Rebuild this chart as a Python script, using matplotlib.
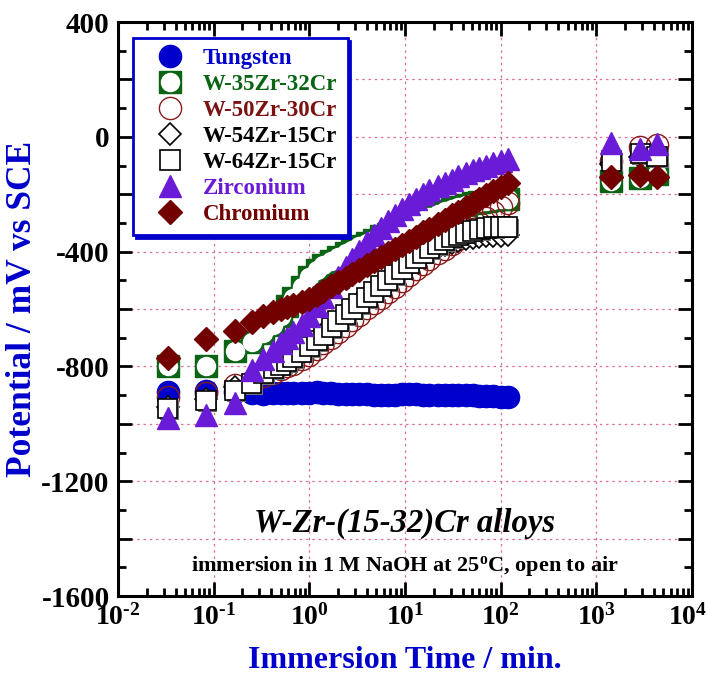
import matplotlib
matplotlib.use('Agg')
import matplotlib.pyplot as plt
import matplotlib.patheffects as pe
import matplotlib.transforms as mtransforms
from matplotlib.lines import Line2D
from matplotlib.ticker import LogLocator, MultipleLocator, NullFormatter

plt.rcParams['font.family'] = ['Liberation Serif', 'DejaVu Serif']
plt.rcParams['font.weight'] = 'bold'
plt.rcParams['mathtext.fontset'] = 'custom'
plt.rcParams['mathtext.rm'] = 'Liberation Serif:bold'
plt.rcParams['mathtext.it'] = 'Liberation Serif:italic:bold'
plt.rcParams['mathtext.bf'] = 'Liberation Serif:bold'
plt.rcParams['axes.unicode_minus'] = False

# immersion time, minutes
time_min = [0.033, 0.083, 0.167, 0.25, 0.33, 0.42, 0.5, 0.58, 0.67, 0.83,
            1.0, 1.2, 1.4, 1.7, 2.0, 2.4, 2.8, 3.3, 4.0, 4.7,
            5.6, 6.6, 7.8, 9.3, 11, 13, 15.5, 18, 22, 26,
            31, 36, 43, 51, 60, 71, 84, 100, 118]
time_long = [1440, 2880, 4320]

# potential, mV vs SCE
tungsten = [-889, -884, -890, -893, -895, -893, -892, -894, -893, -892,
            -891, -890, -892, -894, -895, -896, -896, -897, -897, -898,
            -898, -899, -898, -897, -896, -897, -898, -899, -900, -900,
            -899, -898, -899, -900, -902, -903, -904, -905, -905]

w35zr32cr = [-797, -800, -747, -716, -685, -655, -625, -590, -560, -525,
             -490, -465, -447, -432, -418, -405, -393, -381, -369, -358,
             -347, -337, -328, -318, -308, -298, -289, -280, -270, -260,
             -251, -244, -237, -231, -226, -222, -219, -217, -215]
w35zr32cr_long = [-154, -143, -130]

w50zr30cr = [-905, -891, -863, -850, -835, -822, -810, -800, -790, -775,
             -760, -740, -720, -700, -680, -660, -640, -620, -598, -580,
             -560, -542, -522, -502, -482, -462, -442, -425, -405, -390,
             -372, -357, -340, -322, -302, -283, -262, -245, -230]
w50zr30cr_long = [-85, -35, -30]

w54zr15cr = [-943, -912, -873, -852, -820, -803, -790, -777, -763, -745,
             -725, -705, -685, -660, -638, -617, -597, -577, -557, -537,
             -518, -498, -480, -462, -444, -428, -413, -400, -388, -378,
             -370, -362, -356, -352, -349, -347, -345, -344, -343]
w54zr15cr_long = [-95, -70, -75]

w64zr15cr = [-947, -918, -884, -859, -825, -808, -795, -782, -768, -750,
             -730, -710, -690, -665, -642, -620, -600, -580, -560, -540,
             -520, -500, -480, -460, -440, -422, -405, -390, -375, -362,
             -350, -342, -335, -328, -322, -318, -315, -314, -314]
w64zr15cr_long = [-84, -59, -69]

zirconium = [-978, -971, -927, -811, -775, -745, -720, -700, -680, -655,
             -625, -590, -558, -522, -490, -455, -425, -398, -368, -343,
             -318, -295, -272, -252, -234, -217, -201, -187, -173, -160,
             -149, -138, -127, -117, -108, -100, -92, -85, -78]
zirconium_long = [-21, -42, -25]

chromium = [-769, -706, -678, -645, -625, -610, -600, -592, -585, -575,
            -565, -550, -537, -520, -506, -491, -478, -464, -448, -434,
            -419, -405, -391, -376, -362, -348, -333, -320, -303, -289,
            -274, -261, -246, -232, -218, -204, -189, -174, -160]
chromium_long = [-140, -133, -140]

labels = ['Tungsten', 'W-35Zr-32Cr', 'W-50Zr-30Cr', 'W-54Zr-15Cr',
          'W-64Zr-15Cr', 'Zirconium', 'Chromium']
label_colors = ['#0000cc', '#0b6414', '#7a1212', 'black', 'black',
                '#6a1bd8', '#720000']

blue = '#0000cc'
green = '#0b6414'
darkred = '#8b1a1a'
purple = '#6a1bd8'
maroon = '#720000'

t_all = time_min + time_long
sq_shadow = [pe.SimplePatchShadow(offset=(1.2, -1.2), shadow_rgbFace='0.45', alpha=1), pe.Normal()]

fig = plt.figure(figsize=(7.08, 6.77), dpi=100)
ax = fig.add_axes([0.1667, 0.1196, 0.8107, 0.8479])

ax.plot(time_min, tungsten, ls='none', marker='o', ms=16, mfc=blue, mec=blue)
ax.plot(t_all, w35zr32cr + w35zr32cr_long, ls='none', marker='s', ms=16.5, mfc=green, mec=green)
ax.plot(t_all, w35zr32cr + w35zr32cr_long, ls='none', marker='o', ms=14, mfc='white', mec='none')
ax.plot(t_all, w50zr30cr + w50zr30cr_long, ls='none', marker='o', ms=16, mfc='none', mec=darkred, mew=1)
ax.plot(t_all, w54zr15cr + w54zr15cr_long, ls='none', marker='D', ms=11, mfc='white', mec='black', mew=1.2)
ax.plot(t_all, w64zr15cr + w64zr15cr_long, ls='none', marker='s', ms=14, mfc='white', mec='black', mew=1.2,
        path_effects=sq_shadow)
ax.plot(t_all, zirconium + zirconium_long, ls='none', marker='^', ms=16, mfc=purple, mec=purple)
ax.plot(t_all, chromium + chromium_long, ls='none', marker='D', ms=12, mfc=maroon, mec=maroon)

ax.set_xscale('log')
ax.set_xlim(1e-2, 1e4)
ax.set_ylim(-1600, 400)

xt = [1e-2, 1e-1, 1e0, 1e1, 1e2, 1e3, 1e4]
ax.set_xticks(xt, [r'$\mathrm{10^{\text{-}%d}}$' % -e if e < 0 else r'$\mathrm{10^{%d}}$' % e
                   for e in range(-2, 5)])
ax.xaxis.set_minor_locator(LogLocator(base=10, subs=range(2, 10), numticks=20))
ax.xaxis.set_minor_formatter(NullFormatter())
yt = list(range(-1600, 401, 200))
ax.set_yticks(yt, [str(v) if v % 400 == 0 else '' for v in yt])
ax.yaxis.set_minor_locator(MultipleLocator(100))

ax.tick_params(which='both', direction='in', top=True, right=True, width=2)
ax.tick_params(which='major', length=10, pad=6)
ax.tick_params(axis='y', which='major', labelsize=21)
ax.tick_params(axis='x', which='major', labelsize=20)
ax.tick_params(which='minor', length=6)
for s in ax.spines.values():
    s.set_linewidth(2.2)

# keep the last decade label inside the canvas
last = ax.get_xticklabels()[-1]
last.set_transform(last.get_transform() + mtransforms.ScaledTranslation(-4 / 100, 0, fig.dpi_scale_trans))

ax.set_axisbelow(True)
ax.grid(True, which='major', color='#e06e96', ls=(0, (2, 3)), lw=0.9)

handles = [
    Line2D([], [], ls='none', marker='o', ms=16, mfc=blue, mec=blue),
    (Line2D([], [], ls='none', marker='s', ms=16.5, mfc=green, mec=green),
     Line2D([], [], ls='none', marker='o', ms=14, mfc='white', mec='none')),
    Line2D([], [], ls='none', marker='o', ms=16, mfc='none', mec=darkred, mew=1),
    Line2D([], [], ls='none', marker='D', ms=11, mfc='white', mec='black', mew=1.2),
    Line2D([], [], ls='none', marker='s', ms=14, mfc='white', mec='black', mew=1.2),
    Line2D([], [], ls='none', marker='^', ms=16, mfc=purple, mec=purple),
    Line2D([], [], ls='none', marker='D', ms=12, mfc=maroon, mec=maroon),
]
leg = ax.legend(handles, labels, loc='upper left', bbox_to_anchor=(0.026, 0.972),
                borderaxespad=0, fancybox=False, framealpha=1, edgecolor=blue,
                shadow={'color': blue, 'alpha': 1}, fontsize=16.5,
                borderpad=0.45, labelspacing=0.21, handlelength=2.3, handletextpad=0.3)
leg.get_frame().set_linewidth(2)
for txt, c in zip(leg.get_texts(), label_colors):
    txt.set_color(c)

ax.text(0.5, 0.127, 'W-Zr-(15-32)Cr alloys', transform=ax.transAxes, ha='center', va='center',
        fontsize=23.5, fontstyle='italic', fontweight='bold')
ax.text(0.5, 0.052, r'immersion in 1 M NaOH at 25$^{\mathrm{o}}$C, open to air', transform=ax.transAxes,
        ha='center', va='center', fontsize=16, fontweight='bold')

fig.text(405 / 708, 1 - 660 / 677, 'Immersion Time / min.', ha='center', va='center',
         fontsize=23, fontweight='bold', color=blue)
fig.text(23 / 708, 1 - 309 / 677, 'Potential / mV vs SCE', ha='center', va='center',
         rotation=90, fontsize=25.5, fontweight='bold', color=blue)

fig.savefig('out.png', dpi=100)
